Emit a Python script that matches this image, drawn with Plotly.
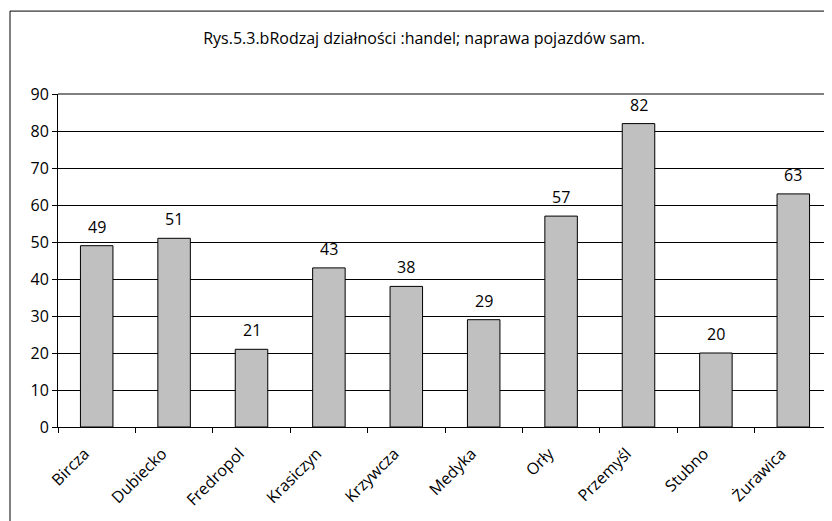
import plotly.graph_objects as go

# Gminy and their counts
gminy = ['Bircza', 'Dubiecko', 'Fredropol', 'Krasiczyn', 'Krzywcza',
         'Medyka', 'Orły', 'Przemyśl', 'Stubno', 'Żurawica']
liczba = [49, 51, 21, 43, 38, 29, 57, 82, 20, 63]
y_ticks = [0, 10, 20, 30, 40, 50, 60, 70, 80, 90]

font = 'Open Sans'

fig = go.Figure()
fig.add_trace(go.Bar(
    x=gminy, y=liczba,
    marker=dict(color='#c0c0c0', line=dict(color='#000000', width=1)),
))

# value labels, lifted a bit above the bars like in Excel
for g, v in zip(gminy, liczba):
    fig.add_annotation(x=g, y=v, text=str(v), showarrow=False,
                       yanchor='bottom', yshift=6,
                       font=dict(family=font, size=16, color='#000000'))

# page body has an 8px margin, so the figure is 8px smaller than the window
fig.update_layout(
    width=824, height=513,
    margin=dict(l=50, r=0, t=86, b=94),
    paper_bgcolor='white', plot_bgcolor='white',
    showlegend=False,
    bargap=0.58,
    title=dict(text='Rys.5.3.bRodzaj działności :handel; naprawa pojazdów sam.',
               x=0.505, xanchor='center', y=0.94, yanchor='middle',
               font=dict(family=font, size=16, color='#000000')),
    font=dict(family=font, size=16, color='#000000'),
)
fig.update_xaxes(
    type='category', tickangle=-45, tickson='boundaries',
    ticks='outside', ticklen=5, tickcolor='#000000',
    ticklabelshift=-12, ticklabelstandoff=10,
    showline=True, linecolor='#000000', linewidth=1,
    showgrid=False, automargin=False,
    tickfont=dict(family=font, size=16, color='#000000'),
)
fig.update_yaxes(
    range=[0, 90], tickvals=y_ticks,
    ticks='outside', ticklen=5, tickcolor='#000000',
    showline=True, linecolor='#000000', linewidth=1,
    showgrid=True, gridcolor='#000000', gridwidth=1,
    zeroline=False, automargin=False,
    tickfont=dict(family=font, size=16, color='#000000'),
)

# top border of plot area (gray) and outer chart frame
fig.add_shape(type='line', xref='paper', yref='paper', x0=0, x1=1, y0=1, y1=1,
              line=dict(color='#808080', width=2))
fig.add_shape(type='rect', xref='paper', yref='paper',
              x0=-0.062, x1=1.05, y0=-0.4, y1=1.249,
              line=dict(color='#000000', width=1))

fig.write_html("out.html")
